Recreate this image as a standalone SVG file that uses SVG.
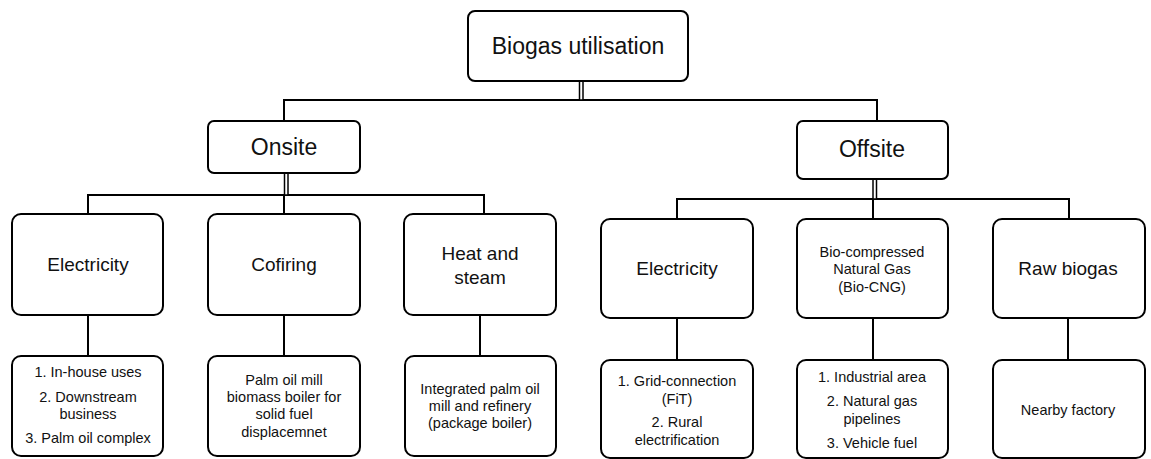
<svg xmlns="http://www.w3.org/2000/svg" width="1151" height="459" viewBox="0 0 1151 459">
<style>
.box{fill:#fff;stroke:#000;stroke-width:2}
.ln{fill:none;stroke:#000;stroke-width:2}
.dl{fill:#fff;stroke:#000;stroke-width:1.5}
text{font-family:"Liberation Sans",Arial,sans-serif;fill:#111;text-anchor:middle}
.t1{font-size:23px}
.t2{font-size:19px}
.t3{font-size:14.5px}
</style>
<rect width="1151" height="459" fill="#fff"/>
<g id="connectors">
<path class="ln" d="M284,121 V100 H877 V121"/>
<rect class="dl" x="579.5" y="81" width="3.5" height="19"/>
<path class="ln" d="M88,214 V195 H484 V214 M284,195 V214"/>
<rect class="dl" x="284.5" y="173" width="3.5" height="22"/>
<path class="ln" d="M677,219 V199 H1069 V219 M873,199 V219"/>
<rect class="dl" x="873" y="179" width="3.5" height="20"/>
<path class="ln" d="M88,315 V356 M284,315 V356 M480,315 V356 M677,318 V360 M873,318 V360 M1068,318 V360"/>
</g>
<g id="biogas"><rect class="box" x="468" y="11" width="220" height="70" rx="7"/><text class="t1" x="578" y="54">Biogas utilisation</text></g>
<g id="onsite"><rect class="box" x="208" y="121" width="152" height="52" rx="6"/><text class="t1" x="284" y="155">Onsite</text></g>
<g id="offsite"><rect class="box" x="797" y="121" width="151" height="58" rx="6"/><text class="t1" x="872" y="157">Offsite</text></g>
<g id="on-elec"><rect class="box" x="12" y="214" width="151" height="101" rx="9"/><text class="t2" x="88" y="271">Electricity</text></g>
<g id="cofiring"><rect class="box" x="208" y="214" width="152" height="101" rx="9"/><text class="t2" x="284" y="271">Cofiring</text></g>
<g id="heat"><rect class="box" x="404" y="214" width="152" height="101" rx="9"/><text class="t2" x="480" y="260">Heat and</text><text class="t2" x="480" y="284">steam</text></g>
<g id="off-elec"><rect class="box" x="601" y="219" width="152" height="99" rx="9"/><text class="t2" x="677" y="275">Electricity</text></g>
<g id="biocng"><rect class="box" x="797" y="219" width="151" height="99" rx="9"/><text class="t3" x="872" y="257">Bio-compressed</text><text class="t3" x="872" y="274">Natural Gas</text><text class="t3" x="872" y="292">(Bio-CNG)</text></g>
<g id="raw"><rect class="box" x="993" y="219" width="152" height="99" rx="9"/><text class="t2" x="1068" y="275">Raw biogas</text></g>
<g id="on-elec-d"><rect class="box" x="12" y="356" width="151" height="100" rx="9"/><text class="t3" x="88" y="377">1. In-house uses</text><text class="t3" x="88" y="402">2. Downstream</text><text class="t3" x="88" y="419">business</text><text class="t3" x="88" y="443">3. Palm oil complex</text></g>
<g id="cofiring-d"><rect class="box" x="208" y="356" width="152" height="100" rx="9"/><text class="t3" x="284" y="385">Palm oil mill</text><text class="t3" x="284" y="402">biomass boiler for</text><text class="t3" x="284" y="419">solid fuel</text><text class="t3" x="284" y="437">displacemnet</text></g>
<g id="heat-d"><rect class="box" x="405" y="356" width="151" height="100" rx="9"/><text class="t3" x="480" y="394">Integrated palm oil</text><text class="t3" x="480" y="411">mill and refinery</text><text class="t3" x="480" y="428">(package boiler)</text></g>
<g id="off-elec-d"><rect class="box" x="601" y="360" width="152" height="98" rx="9"/><text class="t3" x="677" y="386">1. Grid-connection</text><text class="t3" x="677" y="404">(FiT)</text><text class="t3" x="677" y="427">2. Rural</text><text class="t3" x="677" y="445">electrification</text></g>
<g id="biocng-d"><rect class="box" x="797" y="360" width="151" height="98" rx="9"/><text class="t3" x="872" y="382">1. Industrial area</text><text class="t3" x="872" y="406">2. Natural gas</text><text class="t3" x="872" y="424">pipelines</text><text class="t3" x="872" y="448">3. Vehicle fuel</text></g>
<g id="raw-d"><rect class="box" x="993" y="360" width="152" height="98" rx="9"/><text class="t3" x="1068" y="415">Nearby factory</text></g>
</svg>
